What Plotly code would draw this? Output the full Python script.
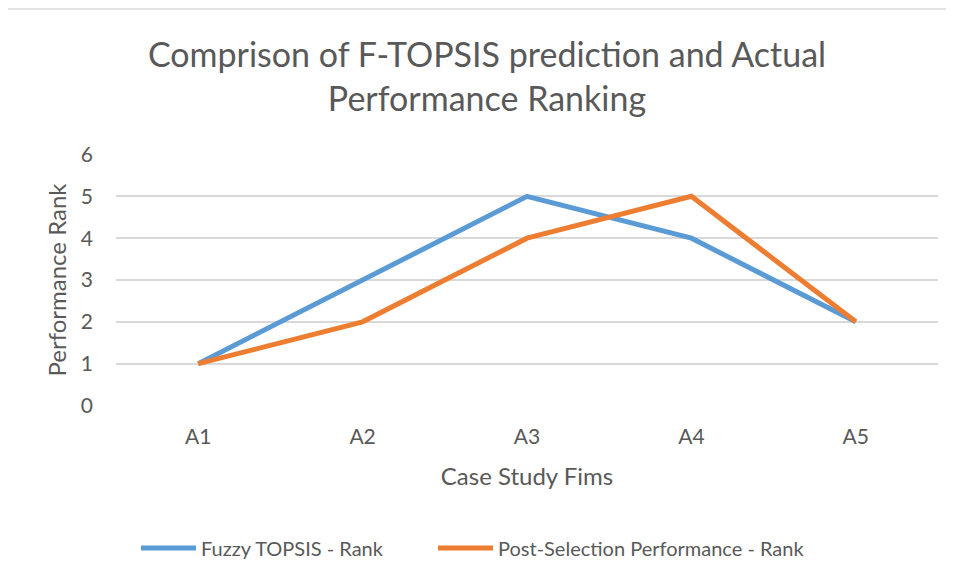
import plotly.graph_objects as go

categories = ["A1", "A2", "A3", "A4", "A5"]
fuzzy_topsis_rank = [1, 3, 5, 4, 2]
post_selection_rank = [1, 2, 4, 5, 2]
y_ticks = [0, 1, 2, 3, 4, 5, 6]

FONT = "Lato"
TXT = "#595959"
OFF = 8  # page body margin

W, H = 954 - OFF, 580 - OFF
L = 116 - OFF
T = 154 - OFF
R = W - (938 - OFF)
B = H - (406 - OFF)
pw, ph = W - L - R, H - T - B

def px_x(px):
    return (px - OFF - L) / pw

def px_y(py):
    return (406 - py) / ph

fig = go.Figure()
fig.add_trace(go.Scatter(x=categories, y=fuzzy_topsis_rank, mode="lines",
                         name="Fuzzy TOPSIS - Rank", legend="legend",
                         line=dict(color="#5B9BD5", width=5)))
fig.add_trace(go.Scatter(x=categories, y=post_selection_rank, mode="lines",
                         name="Post-Selection Performance - Rank", legend="legend2",
                         line=dict(color="#ED7D31", width=5)))

leg_common = dict(orientation="h", yanchor="middle", xanchor="left",
                  font=dict(size=20, color=TXT), itemwidth=55,
                  bgcolor="rgba(0,0,0,0)")

fig.update_layout(
    width=W, height=H,
    margin=dict(l=L, r=R, t=T, b=B),
    paper_bgcolor="white", plot_bgcolor="white",
    font=dict(family=FONT, color=TXT, size=20),
    title=dict(text="Comprison of F-TOPSIS prediction and Actual<br>Performance Ranking",
               x=(487 - OFF) / W, xanchor="center", y=1 - (67 - OFF) / H, yanchor="middle",
               font=dict(size=34, color=TXT, family=FONT)),
    xaxis=dict(type="category", range=[-0.5, 4.5], showgrid=False, zeroline=False,
               showline=False, ticks="", tickfont=dict(size=21, color=TXT),
               ticklabelstandoff=16,
               title=dict(text="Case Study Fims", font=dict(size=24, color=TXT), standoff=21)),
    yaxis=dict(range=[-0.012, 6.012], tickvals=y_ticks, showgrid=True, gridcolor="#D9D9D9", gridwidth=1.5,
               zeroline=False, showline=False, ticks="", tickfont=dict(size=21, color=TXT),
               ticklabelstandoff=22,
               title=dict(text="Performance Rank", font=dict(size=24, color=TXT), standoff=7)),
    legend=dict(x=px_x(136), y=px_y(548), **leg_common),
    legend2=dict(x=px_x(433), y=px_y(548), **leg_common),
    showlegend=True,
)
fig.add_shape(type="rect", xref="paper", yref="paper",
              x0=px_x(7), x1=px_x(970),
              y0=px_y(600), y1=px_y(9),
              line=dict(color="#D9D9D9", width=1.5), fillcolor="rgba(0,0,0,0)", layer="below")
fig.write_html("out.html")
